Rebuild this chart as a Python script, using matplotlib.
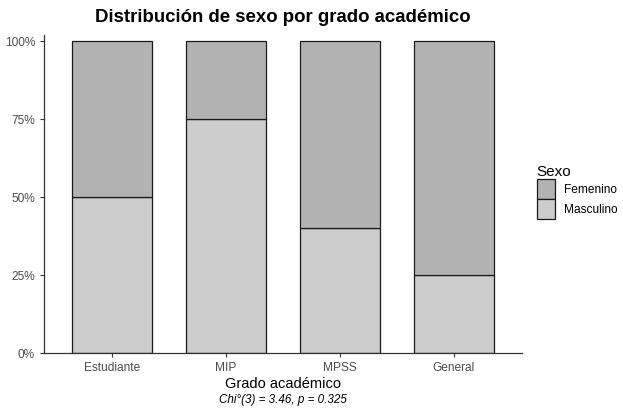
import matplotlib.pyplot as plt
from matplotlib.patches import Patch

plt.rcParams['font.family'] = ['Liberation Sans', 'DejaVu Sans']

grados = ["Estudiante", "MIP", "MPSS", "General"]
masculino = [0.50, 0.75, 0.40, 0.25]
femenino = [0.50, 0.25, 0.60, 0.75]

col_fem = "#b3b3b3"
col_masc = "#cccccc"

fig = plt.figure(figsize=(6.23, 4.11), dpi=100)
ax = fig.add_axes([44 / 623, 58 / 411, 478 / 623, 318 / 411])

x = list(range(1, len(grados) + 1))
ax.bar(x, masculino, width=0.7, color=col_masc, edgecolor="#1a1a1a", linewidth=0.9)
ax.bar(x, femenino, width=0.7, bottom=masculino, color=col_fem, edgecolor="#1a1a1a", linewidth=0.9)

ax.set_xlim(0.4, 4.6)
ax.set_ylim(0, 1.02)
ax.set_xticks(x)
ax.set_xticklabels(grados, fontsize=8.6, color="#4d4d4d")
ax.set_yticks([0, 0.25, 0.5, 0.75, 1.0])
ax.set_yticklabels(["0%", "25%", "50%", "75%", "100%"], fontsize=8.6, color="#4d4d4d")
ax.tick_params(length=3, color="#333333", width=0.8)
for s in ["top", "right"]:
    ax.spines[s].set_visible(False)
for s in ["left", "bottom"]:
    ax.spines[s].set_color("#333333")
    ax.spines[s].set_linewidth(0.9)

ax.set_xlabel("Grado académico", fontsize=10.5, labelpad=2)

fig.text(283 / 623, 1 - 17 / 411, "Distribución de sexo por grado académico",
         ha="center", va="center", fontsize=13.4, fontweight="bold")
fig.text(283 / 623, 1 - 400 / 411, "Chi°(3) = 3.46, p = 0.325",
         ha="center", va="center", fontsize=8.4, style="italic")

handles = [Patch(facecolor=col_fem, edgecolor="#1a1a1a", linewidth=0.9, label="Femenino"),
           Patch(facecolor=col_masc, edgecolor="#1a1a1a", linewidth=0.9, label="Masculino")]
leg = fig.legend(handles=handles, title="Sexo", loc="upper left",
                 bbox_to_anchor=(532 / 623, 1 - 160 / 411), frameon=False,
                 fontsize=8.6, title_fontsize=11, handlelength=1.5, handleheight=2.2,
                 handletextpad=0.8, labelspacing=0.0, borderaxespad=0)
leg._legend_box.align = "left"

fig.savefig("out.png", dpi=100)
